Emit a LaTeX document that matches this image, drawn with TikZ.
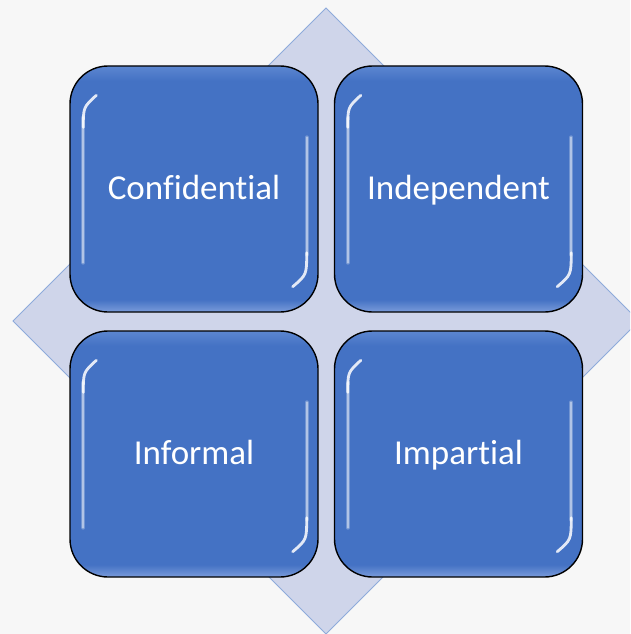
\documentclass[tikz,border=0pt]{standalone}
\usepackage{fontspec}
\setmainfont{Carlito}[Ligatures=NoCommon,RawFeature={-liga;-clig}]
\usetikzlibrary{calc}
\definecolor{bg}{HTML}{F7F7F7}
\definecolor{boxblue}{HTML}{4472C4}
\definecolor{boxlight}{HTML}{7A9BDA}
\definecolor{boxtop}{HTML}{5C86D0}
\definecolor{dia}{HTML}{CFD5EA}
\definecolor{diaedge}{HTML}{8EAADB}
\pgfdeclareverticalshading{tileshade}{100bp}{%
  color(0bp)=(boxlight); color(25bp)=(boxlight); color(27.5bp)=(boxblue);
  color(72bp)=(boxblue); color(75bp)=(boxtop); color(100bp)=(boxtop)}
\tikzset{
  tile/.style={draw=black, line width=1.4pt, shading=tileshade,
    rounded corners=38pt, minimum width=248pt, minimum height=246pt,
    inner sep=0pt, text=white, text height=26pt, text depth=6pt,
    font=\fontsize{35}{42}\selectfont},
  glosssoft/.style={white, opacity=0.25, line width=4pt, line cap=round},
  glossline/.style={white, opacity=0.45, line width=1.8pt, line cap=round},
  glossbright/.style={white, opacity=0.85, line width=2.8pt, line cap=round},
  diamondshape/.style={fill=dia, draw=diaedge, line width=1pt}
}
\newcommand\glossfx[1]{%
  \draw[glosssoft] ($(#1.north west)+(14,52)$) -- ($(#1.south west)+(14,-50)$);
  \draw[glossline] ($(#1.north west)+(14,52)$) -- ($(#1.south west)+(14,-50)$);
  \draw[glossbright] ($(#1.north west)+(14,62)$) .. controls ($(#1.north west)+(14,42)$) .. ($(#1.north west)+(27,30)$);
  \draw[glosssoft] ($(#1.north east)+(-12,72)$) -- ($(#1.south east)+(-12,-58)$);
  \draw[glossline] ($(#1.north east)+(-12,72)$) -- ($(#1.south east)+(-12,-58)$);
  \draw[glossbright] ($(#1.south east)+(-12,-60)$) .. controls ($(#1.south east)+(-12,-38)$) .. ($(#1.south east)+(-26,-26)$);
}
\begin{document}
\begin{tikzpicture}[x=1pt,y=-1pt]
\fill[bg] (0,0) rectangle (630,634);
\useasboundingbox (0,0) rectangle (630,634);
\begin{scope}
\clip (0,0) rectangle (630,634);
\filldraw[diamondshape] (326,8) coordinate (dt) -- (639,321) coordinate (dr) -- (326,634) coordinate (db) -- (13,321) coordinate (dl) -- cycle;
\end{scope}
\node[tile] (conf) at (194,189) {Confidential};
\node[tile] (indep) at (458.5,189) {Independent};
\node[tile] (inform) at (194,454) {Informal};
\node[tile] (impart) at (458.5,454) {Impartial};
\glossfx{conf}
\glossfx{indep}
\glossfx{inform}
\glossfx{impart}
\end{tikzpicture}
\end{document}
